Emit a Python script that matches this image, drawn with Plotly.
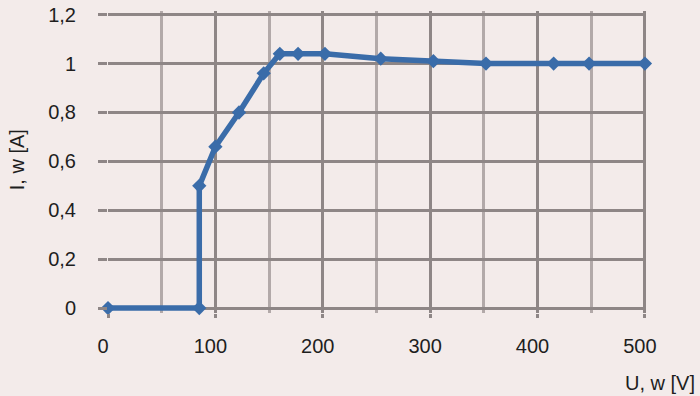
import plotly.graph_objects as go

u_values = [0, 85, 85, 100, 122, 145, 160, 177, 202, 254, 303, 352, 415, 448, 500]
i_values = [0, 0, 0.5, 0.66, 0.8, 0.96, 1.04, 1.04, 1.04, 1.02, 1.01, 1.0, 1.0, 1.0, 1.0]
x_ticks = [0, 100, 200, 300, 400, 500]
y_ticks = [0, 0.2, 0.4, 0.6, 0.8, 1.0, 1.2]

bg = "#f3ebea"
grid_dark = "#8e8686"
grid_light = "#b2a9a9"
font = dict(family="Liberation Sans, Arial, sans-serif", size=20, color="#1e1e1e")

W, H = 700, 396
l, r, t, b = 108, 54, 10.5, 83
pw, ph = W - l - r, H - t - b

fig = go.Figure()
fig.add_trace(go.Scatter(
    x=u_values, y=i_values, mode="lines+markers",
    line=dict(color="#3a6ca9", width=5.5),
    marker=dict(symbol="diamond", size=11, color="#3a6ca9"),
    cliponaxis=False, showlegend=False,
))

fig.update_layout(
    width=W, height=H,
    margin=dict(l=l, r=r, t=t, b=b, autoexpand=False),
    paper_bgcolor=bg, plot_bgcolor=bg,
    separators=", ",
    font=font,
    xaxis=dict(
        range=[0, 501], tickvals=x_ticks, showgrid=True, gridcolor=grid_dark, gridwidth=2.5,
        ticks="outside", ticklen=4, tickwidth=2.5, tickcolor=grid_dark,
        ticklabelstandoff=11, ticklabelshift=-5, automargin=False,
        minor=dict(dtick=50, showgrid=True, gridcolor=grid_light, gridwidth=2.5, ticks=""),
        zeroline=False, showline=False, fixedrange=True,
    ),
    yaxis=dict(
        range=[-0.02, 1.215], tickvals=y_ticks, showgrid=True, gridcolor=grid_dark, gridwidth=2.5,
        ticks="outside", ticklen=9, tickwidth=2.5, tickcolor=grid_dark,
        ticklabelstandoff=18, automargin=False,
        zeroline=False, showline=False, fixedrange=True,
    ),
)
fig.add_annotation(text="U, w [V]", xref="paper", yref="paper",
                   x=(660 - l) / pw, y=(H - b - 383) / ph, showarrow=False,
                   xanchor="center", yanchor="middle")
fig.add_annotation(text="I, w [A]", textangle=-90, xref="paper", yref="paper",
                   x=(17 - l) / pw, y=(H - b - 160) / ph, showarrow=False,
                   xanchor="center", yanchor="middle")

fig.write_html("out.html")
